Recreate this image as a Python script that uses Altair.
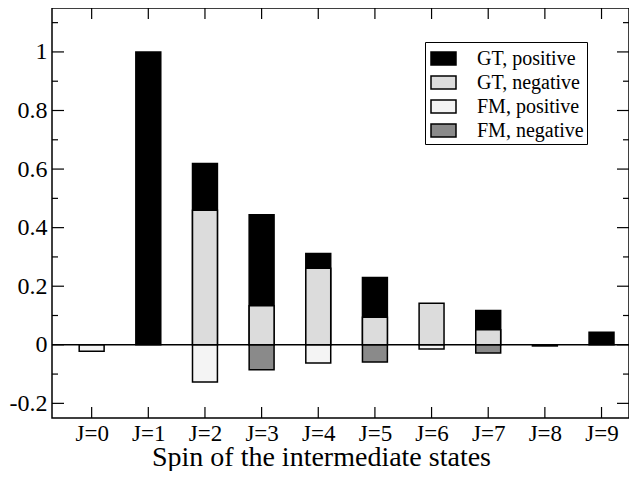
import altair as alt
import pandas as pd

# ---- data ----
J_VALUES = list(range(10))
GT_POS = [None, 1.0, 0.619, 0.444, 0.312, 0.230, None, 0.117, -0.004, 0.043]
GT_NEG = [None, None, 0.459, 0.133, 0.261, 0.094, 0.142, 0.051, None, None]
FM_POS = [-0.022, None, -0.127, None, -0.062, None, -0.014, None, None, None]
FM_NEG = [None, None, None, -0.085, None, -0.059, None, -0.028, None, None]

CATS = ["GT, positive", "GT, negative", "FM, positive", "FM, negative"]
FILLS = ["#000000", "#dcdcdc", "#f4f4f4", "#8a8a8a"]

Y_MAJOR = [-0.2, 0.0, 0.2, 0.4, 0.6, 0.8, 1.0]
Y_MINOR = [-0.1, 0.1, 0.3, 0.5, 0.7, 0.9, 1.1]

rows = []
for cat, series in zip(CATS, [GT_POS, GT_NEG, FM_POS, FM_NEG]):
    for j, v in zip(J_VALUES, series):
        if v is not None:
            rows.append({"cat": cat, "J": j, "v": v})
df = pd.DataFrame(rows)

W, H = 577, 410
FONT = "Liberation Serif"

xscale = alt.Scale(domain=[-0.7, 9.485], nice=False, zero=False)
yscale = alt.Scale(domain=[-0.25, 1.15], nice=False, zero=False)

X_AXIS = alt.Axis(values=J_VALUES, labelExpr="'J=' + datum.value",
                  ticks=False, domain=False, grid=False,
                  labelFont=FONT, labelFontSize=23, labelColor="black",
                  labelPadding=4,
                  title="Spin of the intermediate states",
                  titleFont=FONT, titleFontSize=28, titleFontWeight="normal",
                  titleColor="black", titleX=269, titleY=47,
                  titleBaseline="alphabetic", titleAlign="center")
Y_AXIS = alt.Axis(values=Y_MAJOR,
                  labelExpr="replace(format(datum.value, '~g'), '\u2212', '-')",
                  ticks=False, domain=False, grid=False,
                  labelFont=FONT, labelFontSize=24, labelColor="black",
                  labelPadding=5, title=None)

bars = alt.Chart(df).transform_calculate(
    xl="datum.J - 0.22", xr="datum.J + 0.22", zero="0"
).mark_rect(stroke="black", strokeWidth=1.5).encode(
    x=alt.X("xl:Q", scale=xscale, axis=X_AXIS),
    x2="xr:Q",
    y=alt.Y("v:Q", scale=yscale, axis=Y_AXIS),
    y2="zero:Q",
    fill=alt.Fill("cat:N", scale=alt.Scale(domain=CATS, range=FILLS),
                  legend=alt.Legend(orient="none", legendX=373, legendY=34,
                                    title=None, strokeColor="black", fillColor="white",
                                    padding=3, symbolOffset=2,
                                    labelFont=FONT, labelFontSize=20,
                                    labelColor="black", labelOffset=20, rowPadding=0,
                                    symbolType="M-1,-0.52H1V0.52H-1Z", symbolSize=625,
                                    symbolStrokeColor="black", symbolStrokeWidth=1.5,
                                    symbolOpacity=1)),
)

zero_line = alt.Chart(pd.DataFrame({"v": [0.0]})).mark_rule(
    color="black", strokeWidth=1.5
).encode(y=alt.Y("v:Q", scale=yscale, axis=Y_AXIS))

ymaj = pd.DataFrame({"v": Y_MAJOR})
ymin = pd.DataFrame({"v": Y_MINOR})
xt = pd.DataFrame({"xl": J_VALUES})

def yticks(data, x0, x1):
    return alt.Chart(data).mark_rule(color="black", strokeWidth=1.2).encode(
        y=alt.Y("v:Q", scale=yscale, axis=Y_AXIS),
        x=alt.value(x0), x2=alt.value(x1))

def xticks(data, y0, y1):
    return alt.Chart(data).mark_rule(color="black", strokeWidth=1.2).encode(
        x=alt.X("xl:Q", scale=xscale, axis=X_AXIS),
        y=alt.value(y0), y2=alt.value(y1))

chart = alt.layer(
    bars, zero_line,
    yticks(ymaj, 0, 12), yticks(ymaj, W - 12, W),
    yticks(ymin, 0, 6), yticks(ymin, W - 6, W),
    xticks(xt, H - 11, H), xticks(xt, 0, 11),
).properties(
    width=W, height=H, autosize="none",
    padding={"left": 44, "top": 0, "right": 0, "bottom": 53},
    background="white",
).configure_view(stroke="black", strokeWidth=1.5)

chart.save("out.html", embed_options={"renderer": "svg", "actions": False})
